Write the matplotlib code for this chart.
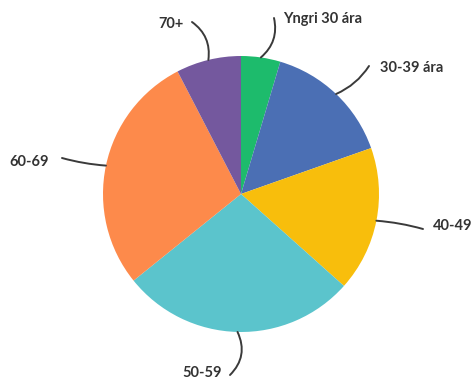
import numpy as np
import matplotlib.pyplot as plt

labels = ["Yngri 30 ára", "30-39 ára", "40-49", "50-59", "60-69", "70+"]
shares = [4.6, 15.0, 17.0, 27.6, 28.2, 7.6]
colors = ["#1dbb6c", "#4b6fb4", "#f8be0c", "#5bc4cc", "#fd8a4b", "#74589e"]

# label text anchor (x, y in pixels from top-left), leader end, curvature
label_pos = [(283, 19), (380, 68), (433, 226), (182, 373), (9, 162), (158, 24)]
line_end = [(274, 18), (369, 66), (423, 229), (230, 375), (62, 158), (192, 22)]
line_rad = [-0.3, -0.15, 0.05, 0.35, 0.05, -0.3]

W, H = 475, 381
cx, cy, r = 241, 194, 138

fig = plt.figure(figsize=(W / 100, H / 100), dpi=100)
ax = fig.add_axes([0, 0, 1, 1])

wedges, _ = ax.pie(shares, colors=colors, startangle=90, counterclock=False,
                   center=(cx, H - cy), radius=r,
                   wedgeprops=dict(linewidth=0))
ax.set_xlim(0, W)
ax.set_ylim(0, H)
ax.set_aspect("equal")
ax.axis("off")

for w, lab, (tx, ty), (ex, ey), rad in zip(wedges, labels, label_pos, line_end, line_rad):
    mid = np.deg2rad((w.theta1 + w.theta2) / 2)
    sx = cx + r * np.cos(mid)
    sy = (H - cy) + r * np.sin(mid)
    ax.annotate("", xy=(sx, sy), xytext=(ex, H - ey),
                arrowprops=dict(arrowstyle="-", color="#3a3a3a", lw=1.4,
                                shrinkA=0, shrinkB=0,
                                connectionstyle=f"arc3,rad={rad}"))
    ax.text(tx, H - ty, lab, fontsize=10.5, fontweight="bold", family="Lato",
            color="#333333", ha="left", va="center")

fig.savefig("out.png", dpi=100)
